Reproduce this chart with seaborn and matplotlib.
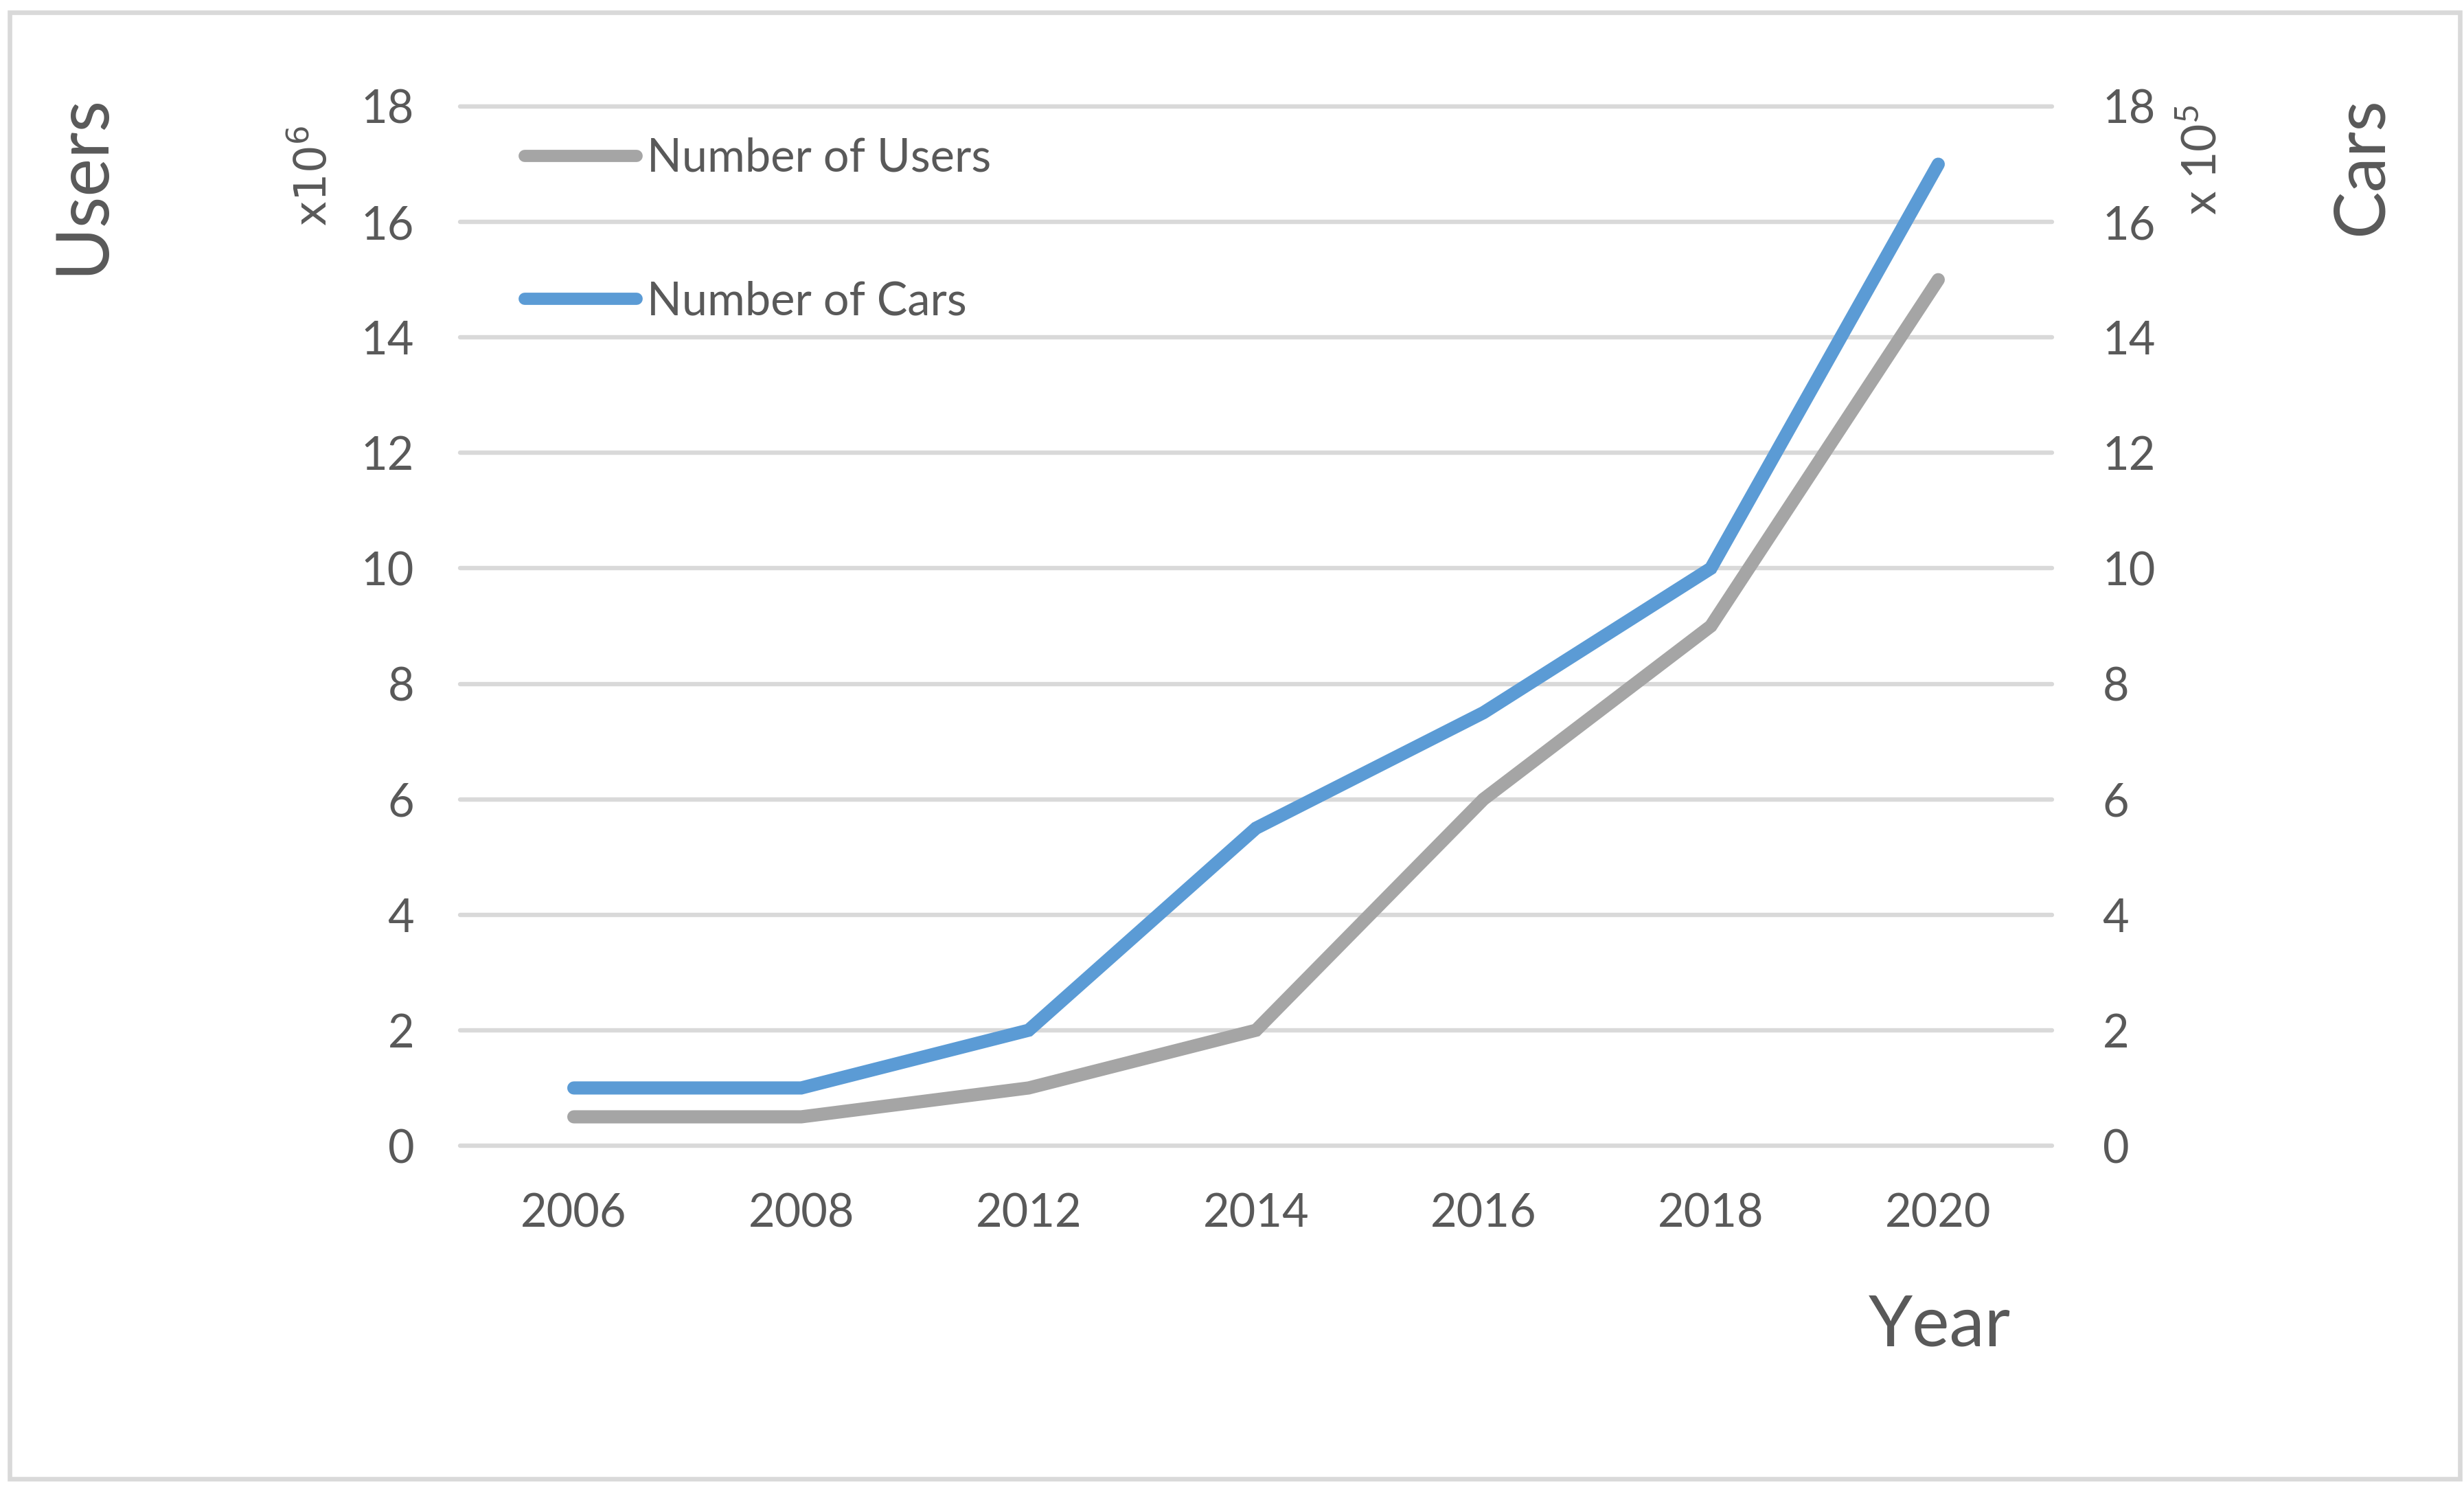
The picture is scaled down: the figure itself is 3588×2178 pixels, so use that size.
import matplotlib
matplotlib.use("Agg")
import matplotlib.pyplot as plt
from matplotlib.lines import Line2D
from matplotlib.patches import Rectangle
import seaborn as sns
import pandas as pd

# ---- data ----
years = ["2006", "2008", "2012", "2014", "2016", "2018", "2020"]
users = [0.5, 0.5, 1, 2, 6, 9, 15]      # x10^6
cars = [1, 1, 2, 5.5, 7.5, 10, 17]      # x10^5
series_names = ["Number of Users", "Number of Cars"]
y_ticks = [0, 2, 4, 6, 8, 10, 12, 14, 16, 18]

sns.set_theme(style="white")
plt.rcParams["font.family"] = ["Lato", "DejaVu Sans"]
plt.rcParams["mathtext.fontset"] = "custom"
plt.rcParams["mathtext.rm"] = "Lato"
plt.rcParams["mathtext.it"] = "Lato:italic"

TXT = "#595959"
GRID = "#d9d9d9"
C_USERS = "#a5a5a5"
C_CARS = "#5b9bd5"

W, H, DPI = 3588, 2178, 200
fig = plt.figure(figsize=(W / DPI, H / DPI), dpi=DPI)
fig.patch.set_facecolor("white")

# axes placement (pixels -> fractions)
ax_l, ax_r, ax_t, ax_b = 670, 2988, 155, 1668
ax = fig.add_axes([ax_l / W, (H - ax_b) / H, (ax_r - ax_l) / W, (ax_b - ax_t) / H])

df = pd.DataFrame({
    "Year": years * 2,
    "Value": users + cars,
    "Series": [series_names[0]] * len(years) + [series_names[1]] * len(years),
})

sns.lineplot(data=df, x="Year", y="Value", hue="Series",
             palette={series_names[0]: C_USERS, series_names[1]: C_CARS},
             sort=False, lw=6.9, legend=False, ax=ax,
             solid_capstyle="round", solid_joinstyle="miter", zorder=3)

ax.set_xlim(-0.5, len(years) - 0.5)
ax.set_ylim(0, 18)
ax.set_yticks(y_ticks)
ax.set_xlabel("")
ax.set_ylabel("")
for s in ax.spines.values():
    s.set_visible(False)
ax.grid(axis="y", color=GRID, lw=2.3, zorder=0)
ax.grid(axis="x", visible=False)
ax.set_axisbelow(True)
ax.tick_params(axis="y", length=0, pad=24, labelsize=24, labelcolor=TXT)
ax.tick_params(axis="x", length=0, pad=24.5, labelsize=24, labelcolor=TXT)
for gl in ax.get_ygridlines():
    gl.set_clip_on(False)

ax2 = ax.twinx()
ax2.set_ylim(0, 18)
ax2.set_yticks(y_ticks)
for s in ax2.spines.values():
    s.set_visible(False)
ax2.grid(False)
ax2.tick_params(axis="y", length=0, pad=26.5, labelsize=24, labelcolor=TXT)

# legend
handles = [Line2D([], [], color=C_USERS, lw=6.4, solid_capstyle="round"),
           Line2D([], [], color=C_CARS, lw=6.4, solid_capstyle="round")]
leg = ax.legend(handles, series_names, loc="upper left",
                bbox_to_anchor=(764 / W, (H - 200) / H), bbox_transform=fig.transFigure,
                frameon=False, fontsize=24, handlelength=2.45, handletextpad=0.22,
                labelspacing=2.2, borderpad=0, borderaxespad=0)
for t in leg.get_texts():
    t.set_color(TXT)

# axis titles
fig.text(120 / W, (H - 268) / H, "Users", rotation=90, ha="center", va="center",
         fontsize=38, color=TXT)
fig.text(457 / W, (H - 256) / H, r"x10$^{6}$", rotation=90, ha="center", va="center",
         fontsize=23, color=TXT, family="DejaVu Sans", math_fontfamily="dejavusans")
fig.text(3207 / W, (H - 233) / H, r"x 10$^{\mathrm{5}}$", rotation=90, ha="center",
         va="center", fontsize=25, color=TXT)
fig.text(3440 / W, (H - 242) / H, "Cars", rotation=90, ha="center", va="center",
         fontsize=37, color=TXT)
fig.text(2928 / W, (H - 1959) / H, "Year", ha="right", va="baseline",
         fontsize=37, color=TXT)

# outer frame
fig.patches.append(Rectangle((14 / W, (H - 2153) / H), (3582 - 14) / W, (2153 - 18) / H,
                             transform=fig.transFigure, fill=False,
                             edgecolor=GRID, lw=2.4, zorder=0))

fig.savefig("out.png", dpi=DPI, facecolor="white")
